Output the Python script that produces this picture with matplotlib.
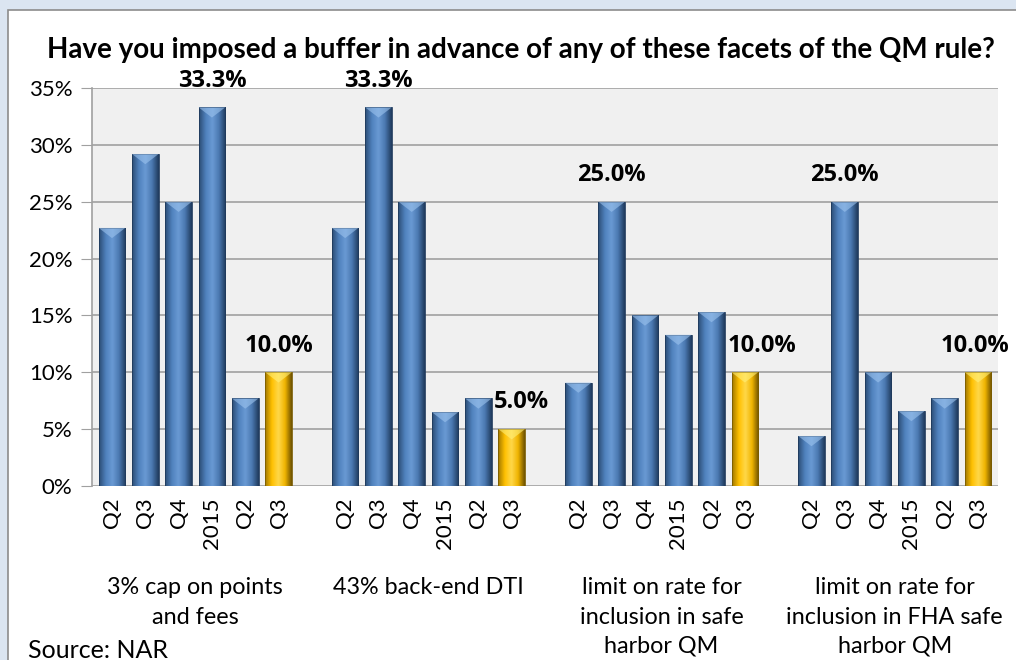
import numpy as np
import matplotlib.pyplot as plt
from matplotlib.patches import Rectangle
from matplotlib.colors import LinearSegmentedColormap

plt.rcParams['font.family'] = ['Lato', 'DejaVu Sans']

groups = ['3% cap on points\nand fees', '43% back-end DTI',
          'limit on rate for\ninclusion in safe\nharbor QM',
          'limit on rate for\ninclusion in FHA safe\nharbor QM']
periods = ['Q2', 'Q3', 'Q4', '2015', 'Q2', 'Q3']
cap_points = [22.7, 29.2, 25.0, 33.3, 7.7, 10.0]
back_end_dti = [22.7, 33.3, 25.0, 6.5, 7.7, 5.0]
safe_harbor = [9.1, 25.0, 15.0, 13.3, 15.3, 10.0]
fha_safe_harbor = [4.4, 25.0, 10.0, 6.6, 7.7, 10.0]
# which bars carry a value label
labelled = [[3, 5], [1, 5], [1, 5], [1, 5]]

series = [cap_points, back_end_dti, safe_harbor, fha_safe_harbor]

# a few labels are nudged sideways like in the original
nudge = {(1, 5): 0.3, (2, 5): 0.5, (3, 5): -0.1}

fig = plt.figure(figsize=(10.16, 6.6), dpi=100)
fig.patch.set_facecolor('#dbe5f1')
fig.patches.append(Rectangle((8 / 1016, -0.01), 1, 1.01 - 10 / 660, transform=fig.transFigure,
                             facecolor='white', edgecolor='#8c8c8c', lw=1.2, zorder=-5))

ax = fig.add_axes([92 / 1016, 1 - 486 / 660, 906 / 1016, 398 / 660])
ax.set_zorder(2)
ax.set_facecolor('#f0f0f0')

blue = LinearSegmentedColormap.from_list('b', ['#2c4d75', '#4f81bd', '#6a9ad4', '#4a78b0', '#1f3a5c'])
gold = LinearSegmentedColormap.from_list('g', ['#a07800', '#ffc000', '#ffd84a', '#f0b400', '#6e5200'])
grad = np.linspace(0, 1, 64).reshape(1, -1)

width = 0.8
xs, labels = [], []
for g, vals in enumerate(series):
    for i, v in enumerate(vals):
        x = g * 7 + i
        xs.append(x)
        labels.append(periods[i])
        last = i == len(vals) - 1
        cmap = gold if last else blue
        rect = Rectangle((x - width / 2, 0), width, v, facecolor='none',
                         edgecolor='#1f3a5c' if not last else '#7a5c00', lw=0.6, zorder=3)
        ax.add_patch(rect)
        im = ax.imshow(grad, cmap=cmap, aspect='auto', extent=(x - width / 2, x + width / 2, 0, v),
                       zorder=2, interpolation='bicubic')
        im.set_clip_path(rect)
        # bevel top triangle
        tri_h = min(0.9, v * 0.5)
        ax.fill([x - width / 2, x + width / 2, x], [v, v, v - tri_h],
                color='#9cc3ee' if not last else '#fff07a', alpha=0.6, zorder=4, lw=0)
        if i in labelled[g]:
            ax.text(x + nudge.get((g, i), 0), v + 1.3, f'{v:.1f}%', ha='center', va='bottom',
                    fontsize=17, fontweight='bold', family=['Open Sans', 'DejaVu Sans'],
                    zorder=5, clip_on=False)

ax.set_xlim(-0.6, 26.6)
ax.set_ylim(0, 35)
ax.set_yticks(np.arange(0, 36, 5))
ax.set_yticklabels([f'{t}%' for t in range(0, 36, 5)], fontsize=16)
ax.yaxis.grid(True, color='#a0a0a0', lw=1.2, zorder=1)
ax.set_axisbelow(True)
ax.set_xticks(xs)
ax.set_xticklabels(labels, rotation=90, fontsize=16)
ax.tick_params(axis='x', length=0, pad=8)
ax.tick_params(axis='y', length=8, color='#a0a0a0', pad=6)
for s in ['top', 'right', 'bottom']:
    ax.spines[s].set_visible(False)
ax.spines['left'].set_color('#a0a0a0')
ax.spines['left'].set_linewidth(1.2)

for g, name in enumerate(groups):
    cx = g * 7 + 2.5
    xf = ax.transData.transform((cx, 0))[0] / fig.dpi / 10.16
    fig.text(xf, 1 - 577 / 660, name, ha='center', va='top', fontsize=16.8, linespacing=1.5)

fig.text(521 / 1016, 1 - 50 / 660, 'Have you imposed a buffer in advance of any of these facets of the QM rule?',
         ha='center', va='center', fontsize=20, fontweight='bold')
fig.text(28 / 1016, 1 - 650 / 660, 'Source: NAR', ha='left', va='center', fontsize=18)

fig.savefig('out.png', dpi=100, facecolor=fig.get_facecolor())
